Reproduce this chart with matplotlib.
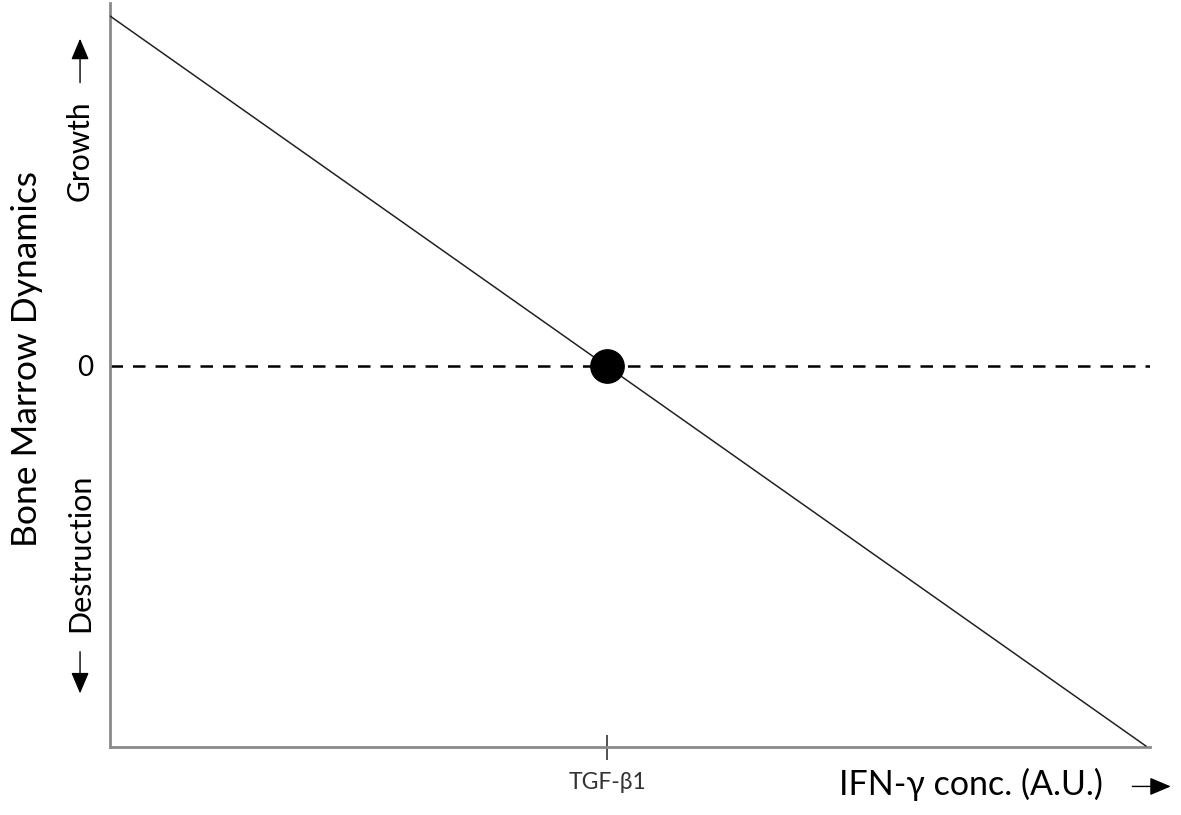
import matplotlib
matplotlib.use("Agg")
import matplotlib.pyplot as plt

plt.rcParams["font.family"] = ["Lato", "DejaVu Sans"]

# schematic data (arbitrary units)
line_x = [0.0, 10.0]
line_y = [3.5, -3.8]
zero_y = 0.0
tgf_x = 4.8
tgf_label = "TGF-\u03b21"
x_label = "IFN-\u03b3 conc. (A.U.)"
y_label = "Bone Marrow Dynamics"
grey = "#8a8a8a"

fig = plt.figure(figsize=(11.81, 8.15), dpi=100)
ax = fig.add_axes([110 / 1181, 68 / 815, 1040 / 1181, 744 / 815])

ax.plot(line_x, line_y, color="#222222", lw=1.1, zorder=3)
ax.axhline(zero_y, color="black", lw=1.8, ls=(0, (5, 4)), zorder=2)
ax.plot([tgf_x], [zero_y], "o", color="black", markersize=24, zorder=4)

ax.set_xlim(0, 10.04)
ax.set_ylim(-3.81, 3.63)

for side in ["top", "right"]:
    ax.spines[side].set_visible(False)
for side in ["left", "bottom"]:
    ax.spines[side].set_color(grey)
    ax.spines[side].set_linewidth(2)

ax.set_xticks([tgf_x])
ax.set_xticklabels([tgf_label], fontsize=16.5, color="#333333")
ax.tick_params(axis="x", direction="inout", length=18, width=1.2,
               color="#333333", pad=9)
ax.set_yticks([zero_y])
ax.set_yticklabels(["0"], fontsize=20)
ax.tick_params(axis="y", length=0, pad=12)

# axis titles
fig.text(27 / 1181, 1 - 359 / 815, y_label, rotation=90, fontsize=25.5,
         ha="center", va="center")
ax.text(0.828, -0.05, x_label, transform=ax.transAxes, fontsize=24.5,
        ha="center", va="center", clip_on=False)

# direction labels and arrows
ax.text(-0.0288, 0.802, "Growth", transform=ax.transAxes, rotation=90,
        fontsize=21.5, ha="center", va="center")
ax.text(-0.0288, 0.261, "Destruction", transform=ax.transAxes, rotation=90,
        fontsize=22, ha="center", va="center")
arrow = dict(arrowstyle="-|>,head_length=1.3,head_width=0.55", color="black",
             lw=1, shrinkA=0, shrinkB=0)
ax.annotate("", xy=(-0.0288, 0.952), xytext=(-0.0288, 0.893),
            xycoords="axes fraction", arrowprops=arrow, annotation_clip=False)
ax.annotate("", xy=(-0.0288, 0.072), xytext=(-0.0288, 0.128),
            xycoords="axes fraction", arrowprops=arrow, annotation_clip=False)
ax.annotate("", xy=(1.02, -0.053), xytext=(0.983, -0.053),
            xycoords="axes fraction", arrowprops=arrow, annotation_clip=False)

fig.savefig("out.png", dpi=100)
